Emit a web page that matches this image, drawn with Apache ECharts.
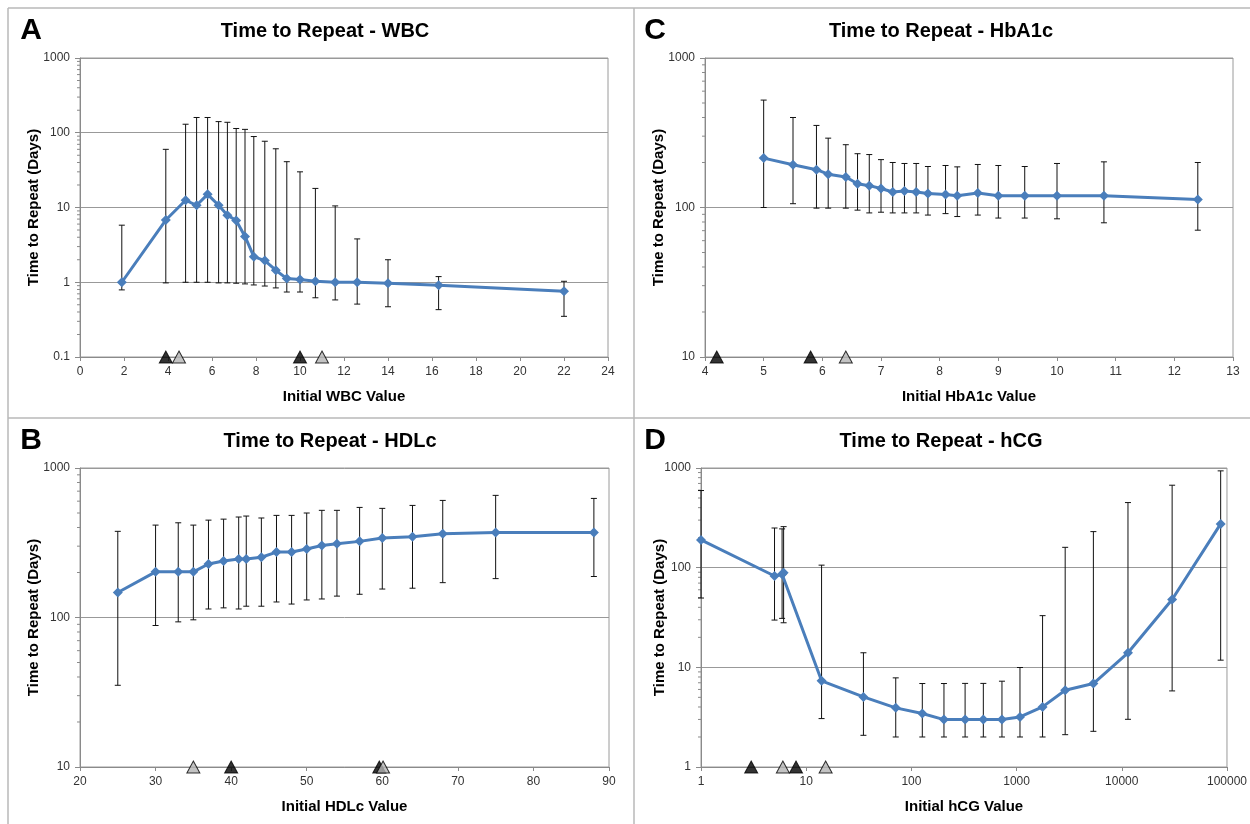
<!DOCTYPE html>
<html><head><meta charset="utf-8">
<script src="https://cdn.jsdelivr.net/npm/echarts@6/dist/echarts.min.js"></script>
<style>html,body{margin:0;padding:0;background:#fff}#c{width:1250px;height:824px}</style>
</head><body><div id="c"></div>
<script>
// ---- Panel A: WBC ----
const wbcX  = [1.9, 3.9, 4.8, 5.3, 5.8, 6.3, 6.7, 7.1, 7.5, 7.9, 8.4, 8.9, 9.4, 10.0, 10.7, 11.6, 12.6, 14.0, 16.3, 22.0];
const wbcY  = [1.0, 6.8, 12.5, 10.7, 15, 10.7, 7.9, 6.7, 4.1, 2.2, 1.95, 1.45, 1.12, 1.09, 1.03, 1.0, 1.0, 0.97, 0.91, 0.76];
const wbcHi = [5.8, 60, 130, 160, 160, 141, 138, 114, 111, 89, 77, 61, 41, 30, 18, 10.5, 3.8, 2.0, 1.19, 1.03];
const wbcLo = [0.79, 0.98, 1.0, 1.0, 1.0, 0.98, 0.98, 0.97, 0.95, 0.92, 0.89, 0.84, 0.74, 0.74, 0.62, 0.58, 0.51, 0.47, 0.43, 0.35];
const wbcBlack = [3.9, 10.0];
const wbcGray  = [4.5, 11.0];

// ---- Panel C: HbA1c ----
const hbaX  = [5.0, 5.5, 5.9, 6.1, 6.4, 6.6, 6.8, 7.0, 7.2, 7.4, 7.6, 7.8, 8.1, 8.3, 8.65, 9.0, 9.45, 10.0, 10.8, 12.4];
const hbaY  = [214, 193, 179, 167, 160, 144, 140, 134, 127, 129, 127, 124, 122, 120, 125, 120, 120, 120, 120, 113];
const hbaHi = [523, 400, 354, 291, 263, 229, 226, 209, 200, 197, 197, 188, 191, 187, 194, 191, 188, 197, 202, 200];
const hbaLo = [100, 106, 99, 99, 99, 96, 92, 93, 92, 92, 92, 89, 91, 87, 89, 85, 85, 84, 79, 70.5];
const hbaBlack = [4.2, 5.8];
const hbaGray  = [6.4];

// ---- Panel B: HDLc ----
const hdlX  = [25, 30, 33, 35, 37, 39, 41, 42, 44, 46, 48, 50, 52, 54, 57, 60, 64, 68, 75, 88];
const hdlY  = [147, 202, 202, 202, 228, 239, 246, 246, 253, 274, 274, 287, 303, 311, 323, 340, 347, 363, 371, 371];
const hdlHi = [377, 415, 430, 415, 448, 455, 470, 477, 463, 482, 482, 500, 521, 521, 545, 537, 562, 607, 656, 626];
const hdlLo = [35.2, 88.4, 93.5, 96.5, 114, 116, 114, 119, 119, 127, 123, 131, 133, 139, 143, 155, 157, 171, 182, 188];
const hdlBlack = [40, 59.6];
const hdlGray  = [35, 60.1];

// ---- Panel D: hCG ----
const hcgX  = [1.0, 5.0, 5.9, 6.1, 14, 35, 71, 127, 204, 324, 483, 726, 1077, 1766, 2897, 5370, 11450, 30100, 87100];
const hcgY  = [190, 82.5, 86, 89, 7.32, 5.05, 3.92, 3.44, 2.99, 3.0, 3.0, 3.0, 3.18, 4.01, 5.89, 6.88, 14.0, 48.0, 275];
const hcgHi = [594, 250, 245, 258, 106, 14, 7.84, 6.88, 6.88, 6.9, 6.9, 7.26, 9.96, 33, 160, 230, 450, 672, 936];
const hcgLo = [49.6, 29.8, 31, 28, 3.06, 2.08, 2.0, 2.0, 2.0, 2.0, 2.0, 2.0, 2.0, 2.0, 2.11, 2.28, 3.01, 5.8, 11.8];
const hcgBlack = [3.0, 8.0];
const hcgGray  = [6.0, 15.3];

// minor tick factors within each decade of the log value axes
const minorFactors = [2, 3, 4, 5, 6, 7, 8, 9];

const FONT = '"Liberation Sans", Arial, Helvetica, sans-serif';
const BLUE = '#4a7ebb';

const panels = [
  {letter:'A', title:'Time to Repeat - WBC', xName:'Initial WBC Value',
   grid:{left:80, top:58, width:528, height:299}, xType:'value', xMin:0, xMax:24, xInt:2,
   yMin:0.1, yMax:1000, x:wbcX, y:wbcY, hi:wbcHi, lo:wbcLo, black:wbcBlack, gray:wbcGray,
   tX:325, tY:31, lX:31, lY:31, yGap:39, xGap:32},
  {letter:'C', title:'Time to Repeat - HbA1c', xName:'Initial HbA1c Value',
   grid:{left:705, top:58, width:528, height:299}, xType:'value', xMin:4, xMax:13, xInt:1,
   yMin:10, yMax:1000, x:hbaX, y:hbaY, hi:hbaHi, lo:hbaLo, black:hbaBlack, gray:hbaGray,
   tX:941, tY:31, lX:655, lY:31, yGap:39, xGap:32},
  {letter:'B', title:'Time to Repeat - HDLc', xName:'Initial HDLc Value',
   grid:{left:80, top:468, width:529, height:299}, xType:'value', xMin:20, xMax:90, xInt:10,
   yMin:10, yMax:1000, x:hdlX, y:hdlY, hi:hdlHi, lo:hdlLo, black:hdlBlack, gray:hdlGray,
   tX:330, tY:441, lX:31, lY:441, yGap:39, xGap:32},
  {letter:'D', title:'Time to Repeat - hCG', xName:'Initial hCG Value',
   grid:{left:701, top:468, width:527, height:299}, xType:'log', xMin:1, xMax:100000,
   yMin:1, yMax:1000, x:hcgX, y:hcgY, hi:hcgHi, lo:hcgLo, black:hcgBlack, gray:hcgGray,
   tX:941, tY:441, lX:655, lY:441, yGap:34, xGap:32}
];

const option = {animation:false, backgroundColor:'#fff', grid:[], xAxis:[], yAxis:[], series:[], graphic:[]};
const fmt = v => String(+Number(v).toPrecision(6));

panels.forEach((p, i) => {
  option.grid.push(Object.assign({show:true, borderColor:'#9a9a9a', borderWidth:1, containLabel:false}, p.grid));
  const xa = {
    gridIndex:i, type:p.xType, min:p.xMin, max:p.xMax,
    axisLine:{show:true, onZero:false, lineStyle:{color:'#8a8a8a', width:1}},
    axisTick:{show:true, length:4, inside:false, lineStyle:{color:'#8a8a8a'}},
    axisLabel:{color:'#333', fontSize:12, fontFamily:FONT, margin:9, showMinLabel:true, showMaxLabel:true, formatter:fmt},
    splitLine:{show:false},
    name:p.xName, nameLocation:'middle', nameGap:p.xGap, nameMoveOverlap:false,
    nameTextStyle:{fontWeight:'bold', fontSize:15, color:'#000', fontFamily:FONT}
  };
  if (p.xType === 'value') xa.interval = p.xInt; else xa.logBase = 10;
  option.xAxis.push(xa);
  option.yAxis.push({
    gridIndex:i, type:'log', logBase:10, min:p.yMin, max:p.yMax,
    axisLine:{show:true, lineStyle:{color:'#8a8a8a', width:1}},
    axisTick:{show:true, length:5, lineStyle:{color:'#8a8a8a'}},
    axisLabel:{color:'#333', fontSize:12, fontFamily:FONT, margin:10, formatter:fmt},
    splitLine:{show:true, lineStyle:{color:'#999', width:1}},
    name:'Time to Repeat (Days)', nameLocation:'middle', nameGap:p.yGap, nameMoveOverlap:false,
    nameTextStyle:{fontWeight:'bold', fontSize:15, color:'#000', fontFamily:FONT}
  });

  // minor ticks on the log value axis
  const minorData = [];
  for (let d = p.yMin; d < p.yMax * 0.999; d *= 10) {
    minorFactors.forEach(f => minorData.push([p.xMin, +(f * d).toPrecision(6)]));
  }
  option.series.push({
    type:'custom', xAxisIndex:i, yAxisIndex:i, silent:true, z:1, clip:false,
    data:minorData,
    renderItem:(params, api) => {
      const pt = api.coord([api.value(0), api.value(1)]);
      return {type:'line', shape:{x1:pt[0]-3, y1:pt[1], x2:pt[0], y2:pt[1]}, style:{stroke:'#8a8a8a', lineWidth:1}};
    }
  });

  // error bars
  option.series.push({
    type:'custom', xAxisIndex:i, yAxisIndex:i, silent:true, z:2, clip:false,
    data:p.x.map((x, k) => [x, p.lo[k], p.hi[k]]),
    renderItem:(params, api) => {
      const top = api.coord([api.value(0), api.value(2)]);
      const bot = api.coord([api.value(0), api.value(1)]);
      const c = 3;
      const st = {stroke:'#111', lineWidth:1};
      return {type:'group', children:[
        {type:'line', shape:{x1:top[0], y1:top[1], x2:bot[0], y2:bot[1]}, style:st},
        {type:'line', shape:{x1:top[0]-c, y1:top[1], x2:top[0]+c, y2:top[1]}, style:st},
        {type:'line', shape:{x1:bot[0]-c, y1:bot[1], x2:bot[0]+c, y2:bot[1]}, style:st}
      ]};
    }
  });

  // main line
  option.series.push({
    type:'line', xAxisIndex:i, yAxisIndex:i, z:3,
    data:p.x.map((x, k) => [x, p.y[k]]),
    symbol:'diamond', symbolSize:10, showSymbol:true,
    lineStyle:{color:BLUE, width:3},
    itemStyle:{color:BLUE, borderWidth:0}
  });

  // reference-range triangles
  option.series.push({
    type:'scatter', xAxisIndex:i, yAxisIndex:i, z:5, clip:false,
    data:p.black.map(x => [x, p.yMin]),
    symbol:'triangle', symbolSize:[13, 12],
    itemStyle:{color:'#000', borderColor:'#000', borderWidth:1}
  });
  option.series.push({
    type:'scatter', xAxisIndex:i, yAxisIndex:i, z:5, clip:false,
    data:p.gray.map(x => [x, p.yMin]),
    symbol:'triangle', symbolSize:[13, 12],
    itemStyle:{color:'#b4b4b4', borderColor:'#000', borderWidth:1}
  });

  option.graphic.push({type:'text', x:p.tX, y:p.tY, silent:true, z:10,
    style:{text:p.title, font:'bold 20px ' + FONT, fill:'#000', textAlign:'center', textVerticalAlign:'middle', align:'center', verticalAlign:'middle'}});
  option.graphic.push({type:'text', x:p.lX, y:p.lY, silent:true, z:10,
    style:{text:p.letter, font:'bold 30px ' + FONT, fill:'#000', textAlign:'center', textVerticalAlign:'middle', align:'center', verticalAlign:'middle'}});
});

// panel divider lines
const divStyle = {stroke:'#b8b8b8', lineWidth:1.5};
option.graphic.push({type:'line', silent:true, shape:{x1:8, y1:8, x2:1250, y2:8}, style:divStyle});
option.graphic.push({type:'line', silent:true, shape:{x1:8, y1:8, x2:8, y2:824}, style:divStyle});
option.graphic.push({type:'line', silent:true, shape:{x1:8, y1:418, x2:1250, y2:418}, style:divStyle});
option.graphic.push({type:'line', silent:true, shape:{x1:634, y1:8, x2:634, y2:824}, style:divStyle});

const chart = echarts.init(document.getElementById('c'));
chart.setOption(option);
</script>
</body></html>
